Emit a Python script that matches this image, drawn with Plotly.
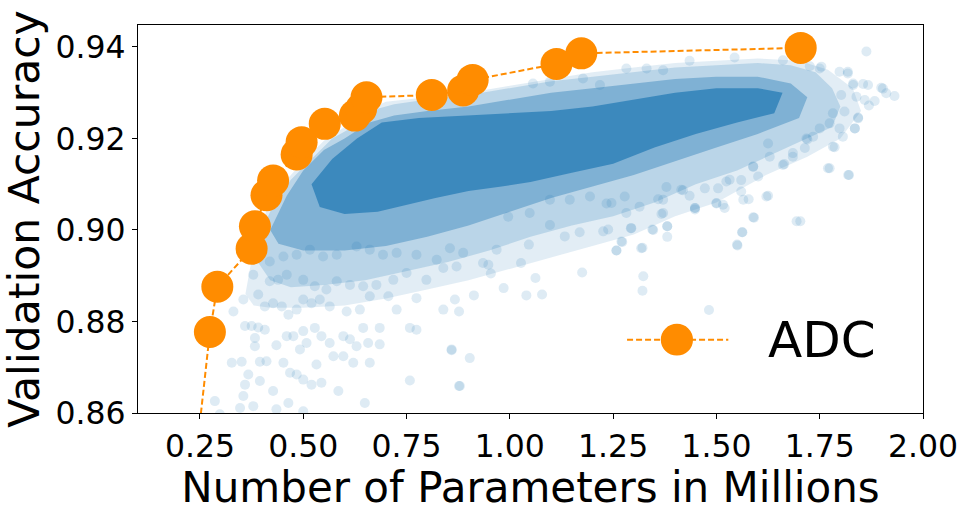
import plotly.graph_objects as go

# Pareto front (ADC)
front_x = [0.245, 0.274, 0.292, 0.375, 0.383, 0.411, 0.427, 0.484, 0.496, 0.552,
           0.625, 0.640, 0.653, 0.811, 0.887, 0.910, 1.113, 1.173, 1.704]
front_y = [0.854, 0.8777, 0.8876, 0.8959, 0.9008, 0.9076, 0.9108, 0.9165, 0.9192, 0.9232,
           0.9250, 0.9265, 0.9290, 0.9295, 0.9305, 0.9328, 0.9363, 0.9386, 0.9398]

# dense cloud of sampled architectures, outlined as four density levels
outer_x = [0.36, 0.38, 0.41, 0.45, 0.50, 0.55, 0.60, 0.65, 0.70, 0.80, 0.90, 1.00, 1.10, 1.20,
           1.30, 1.40, 1.50, 1.60, 1.70, 1.77, 1.83, 1.85, 1.80, 1.72, 1.62, 1.50, 1.40, 1.30,
           1.20, 1.10, 1.00, 0.90, 0.80, 0.70, 0.60, 0.50, 0.42, 0.38]
outer_y = [0.886, 0.896, 0.904, 0.910, 0.915, 0.9195, 0.9225, 0.926, 0.928, 0.929, 0.930,
           0.9315, 0.933, 0.9345, 0.9355, 0.9365, 0.937, 0.9375, 0.937, 0.935, 0.931, 0.926,
           0.920, 0.916, 0.912, 0.906, 0.903, 0.899, 0.8965, 0.894, 0.8915, 0.889, 0.887,
           0.885, 0.8835, 0.883, 0.883, 0.8835]

halo_x = [0.39, 0.40, 0.43, 0.47, 0.52, 0.57, 0.62, 0.66, 0.72, 0.80, 0.90, 1.00, 1.10, 1.20,
          1.30, 1.40, 1.50, 1.60, 1.68, 1.74, 1.78, 1.80, 1.78, 1.72, 1.65, 1.55, 1.45, 1.35,
          1.25, 1.15, 1.05, 0.95, 0.85, 0.75, 0.65, 0.55, 0.47, 0.42]
halo_y = [0.893, 0.900, 0.906, 0.911, 0.9155, 0.920, 0.9225, 0.926, 0.9275, 0.9285, 0.9295,
          0.931, 0.9325, 0.9335, 0.9345, 0.9355, 0.936, 0.9365, 0.936, 0.9345, 0.931, 0.927,
          0.9225, 0.920, 0.917, 0.913, 0.910, 0.906, 0.903, 0.901, 0.8985, 0.8955, 0.893,
          0.891, 0.889, 0.888, 0.8875, 0.889]

mid_x = [0.42, 0.46, 0.50, 0.55, 0.60, 0.66, 0.72, 0.80, 0.90, 1.00, 1.10, 1.20, 1.30, 1.40,
         1.50, 1.60, 1.68, 1.72, 1.70, 1.60, 1.50, 1.40, 1.30, 1.20, 1.10, 1.00, 0.90, 0.80,
         0.70, 0.60, 0.50, 0.44]
mid_y = [0.900, 0.9075, 0.913, 0.9175, 0.920, 0.9235, 0.925, 0.926, 0.927, 0.9285, 0.930,
         0.931, 0.932, 0.933, 0.9335, 0.9335, 0.932, 0.929, 0.9245, 0.921, 0.918, 0.915,
         0.912, 0.9095, 0.907, 0.904, 0.901, 0.8985, 0.8965, 0.8955, 0.8955, 0.897]

core_x = [0.52, 0.57, 0.63, 0.69, 0.78, 0.88, 1.00, 1.10, 1.20, 1.30, 1.40, 1.50, 1.60, 1.66,
          1.64, 1.55, 1.45, 1.35, 1.25, 1.15, 1.05, 0.98, 0.90, 0.82, 0.75, 0.68, 0.60, 0.54]
core_y = [0.910, 0.9155, 0.920, 0.9235, 0.9245, 0.925, 0.9255, 0.926, 0.927, 0.9285, 0.930,
          0.931, 0.931, 0.930, 0.9255, 0.9235, 0.921, 0.918, 0.9145, 0.9125, 0.9105, 0.9095,
          0.9085, 0.907, 0.9055, 0.904, 0.9035, 0.905]

# individual architectures outside the dense cloud
pts_x = [0.286, 0.298, 0.347, 0.355, 0.379, 0.435, 0.464, 0.500, 0.359, 0.367, 0.395, 0.427,
         0.327, 0.351, 0.395, 0.411, 0.452, 0.468, 0.484, 0.500, 0.520, 0.544, 0.585, 0.649,
         0.758, 0.859, 0.879, 0.359, 0.375, 0.391, 0.407, 0.383, 0.383, 0.435, 0.460, 0.476,
         0.500, 0.508, 0.492, 0.528, 0.544, 0.564, 0.597, 0.613, 0.629, 0.657, 0.685, 0.645,
         0.685, 0.758, 0.774, 0.573, 0.597, 0.621, 0.661, 0.532, 0.331, 0.355, 0.391, 0.407,
         0.427, 0.448, 0.464, 0.484, 0.500, 0.520, 0.540, 0.564, 0.605, 0.637, 0.661, 0.706,
         0.726, 0.774, 0.839, 0.379, 0.419, 0.439, 0.460, 0.500, 0.528, 0.556, 0.581, 0.613,
         0.645, 0.677, 0.718, 0.750, 0.798, 0.839, 0.871, 0.419, 0.452, 0.484, 0.516, 0.548,
         0.581, 0.629, 0.661, 0.693, 0.726, 0.774, 0.823, 0.855,
         0.877, 0.903, 0.859, 0.877, 0.867, 0.913, 0.985, 1.040, 1.078, 1.062, 1.027, 0.954,
         0.948, 1.175, 1.046, 1.258, 1.272, 1.321, 1.323, 1.321, 1.482, 1.550, 1.562, 1.589,
         1.694, 1.703, 1.381, 1.345, 1.293, 1.238, 1.169, 1.133, 1.097, 0.968, 0.935, 0.887,
         1.381, 1.448, 1.516, 1.371,
         1.863, 1.931, 1.911, 1.899, 1.883, 1.869, 1.859, 1.867, 1.843, 1.835, 1.806, 1.786,
         1.774, 1.821, 1.591, 1.563, 1.551, 1.625, 1.601, 1.664, 1.685, 1.720, 1.750, 1.798,
         1.831, 1.798, 1.750, 1.818, 1.318, 1.270, 1.258, 1.347, 1.381, 1.367, 1.448, 1.500,
         1.520, 1.560, 1.578, 1.435, 1.415, 1.379, 1.359, 1.294, 1.278, 1.246, 1.226, 1.472,
         1.504, 1.532, 1.589, 1.629, 1.714, 1.734, 1.802, 1.810, 1.782, 1.774,
         1.282, 1.435, 1.544, 1.661, 1.726, 1.754, 1.818, 1.855, 1.903, 1.831, 1.839, 1.331,
         1.371, 1.218, 1.097, 1.056, 1.177, 1.782, 1.835, 1.843, 1.770, 1.819, 1.718, 1.685,
         1.661, 1.621, 1.625, 1.589, 1.560, 1.565, 1.524, 1.500, 1.448, 1.419, 1.371, 1.314,
         1.282, 1.234, 1.194, 1.145, 1.097, 1.048, 0.996]
pts_y = [0.8626, 0.8597, 0.8611, 0.8637, 0.8615, 0.8608, 0.8622, 0.8604, 0.8662, 0.8684,
         0.8670, 0.8648, 0.8710, 0.8712, 0.8712, 0.8713, 0.8710, 0.8688, 0.8684, 0.8673,
         0.8662, 0.8666, 0.8648, 0.8622, 0.8671, 0.8737, 0.8659, 0.8790, 0.8790, 0.8787,
         0.8782, 0.8764, 0.8746, 0.8748, 0.8768, 0.8768, 0.8779, 0.8753, 0.8739, 0.8786,
         0.8768, 0.8753, 0.8768, 0.8761, 0.8746, 0.8753, 0.8750, 0.8786, 0.8786, 0.8786,
         0.8782, 0.8724, 0.8724, 0.8710, 0.8710, 0.8706, 0.8822, 0.8848, 0.8859, 0.8833,
         0.8840, 0.8833, 0.8815, 0.8826, 0.8848, 0.8840, 0.8848, 0.8833, 0.8822, 0.8826,
         0.8855, 0.8855, 0.8826, 0.8851, 0.8826, 0.8902, 0.8888, 0.8891, 0.8902, 0.8891,
         0.8877, 0.8870, 0.8888, 0.8880, 0.8877, 0.8880, 0.8891, 0.8906, 0.8891, 0.8917,
         0.8920, 0.8931, 0.8942, 0.8946, 0.8957, 0.8942, 0.8946, 0.8964, 0.8957, 0.8946,
         0.8950, 0.8946, 0.8935, 0.8960,
         0.8659, 0.8720, 0.8739, 0.8822, 0.8848, 0.8857, 0.8873, 0.8857, 0.8859, 0.8895,
         0.8928, 0.8905, 0.8924, 0.8907, 0.8968, 0.8955, 0.8974, 0.8961, 0.8899, 0.8867,
         0.8825, 0.8968, 0.8995, 0.9028, 0.9019, 0.9019, 0.8985, 0.9001, 0.9004, 0.9001,
         0.8995, 0.8986, 0.9011, 0.8957, 0.8928, 0.8950, 0.9008, 0.9048, 0.9055, 0.9037,
         0.9390, 0.9293, 0.9299, 0.9311, 0.9282, 0.9272, 0.9284, 0.9317, 0.9246, 0.9222,
         0.9204, 0.9181, 0.9135, 0.9120, 0.9027, 0.8995, 0.8966, 0.9075, 0.9117, 0.9144,
         0.9168, 0.9198, 0.9222, 0.9222, 0.9317, 0.9346, 0.9353, 0.9342, 0.8960, 0.8975,
         0.8955, 0.9000, 0.9008, 0.9035, 0.9048, 0.9059, 0.9048, 0.9084, 0.9067, 0.9075,
         0.9088, 0.9094, 0.9067, 0.9004, 0.9073, 0.9059, 0.8997, 0.9091, 0.9091, 0.9110,
         0.9139, 0.9160, 0.9179, 0.9204, 0.9295, 0.9259, 0.9255, 0.9233,
         0.9353, 0.9370, 0.9377, 0.9371, 0.9358, 0.9357, 0.9346, 0.9319, 0.9309, 0.9320,
         0.9291, 0.9353, 0.9349, 0.9317, 0.9324, 0.9320, 0.9331, 0.9182, 0.9222, 0.9244,
         0.9135, 0.9120, 0.9200, 0.9160, 0.9142, 0.9073, 0.9189, 0.9138, 0.9109, 0.9066,
         0.9106, 0.9058, 0.9045, 0.9087, 0.9066, 0.9051, 0.9037, 0.9058, 0.9073, 0.9066,
         0.9066, 0.9037, 0.9029]

x_ticks = [0.25, 0.50, 0.75, 1.00, 1.25, 1.50, 1.75, 2.00]
y_ticks = [0.86, 0.88, 0.90, 0.92, 0.94]

BLUE = "#1f77b4"
ORANGE = "#ff8c00"

fig = go.Figure()

# density levels of the cloud, lightest first
levels = [(outer_x, outer_y, 0.13), (halo_x, halo_y, 0.2), (mid_x, mid_y, 0.38), (core_x, core_y, 0.7)]
for lx, ly, alpha in levels:
    fig.add_trace(go.Scatter(x=lx + lx[:1], y=ly + ly[:1], mode="lines", fill="toself",
                             fillcolor="rgba(31,119,180,%s)" % alpha,
                             line=dict(width=0), hoverinfo="skip", showlegend=False))

fig.add_trace(go.Scatter(x=pts_x, y=pts_y, mode="markers",
                         marker=dict(size=10, color=BLUE, opacity=0.15, line=dict(width=0)),
                         showlegend=False))

fig.add_trace(go.Scatter(x=front_x, y=front_y, mode="lines+markers", name="ADC",
                         line=dict(color=ORANGE, width=2, dash="6px,3px"),
                         marker=dict(size=32, color=ORANGE, line=dict(width=0)),
                         showlegend=False))

# legend drawn by hand so the key matches the big markers
fig.add_shape(type="line", xref="paper", yref="paper", x0=0.623, x1=0.752, y0=0.189, y1=0.189,
              line=dict(color=ORANGE, width=2, dash="6px,3px"))
fig.add_shape(type="circle", xref="paper", yref="paper", x0=0.666, x1=0.707, y0=0.148, y1=0.230,
              fillcolor=ORANGE, line=dict(width=0))
fig.add_annotation(text="ADC", xref="paper", yref="paper", x=0.800, y=0.189,
                   xanchor="left", yanchor="middle", showarrow=False,
                   font=dict(size=50, color="black"))

axis_style = dict(showline=True, mirror=True, linecolor="black", linewidth=1.2,
                  ticks="outside", ticklen=5, tickwidth=1.2, tickcolor="black",
                  showgrid=False, zeroline=False, tickformat=".2f",
                  tickfont=dict(size=31.5, color="black"))

fig.update_xaxes(range=[0.1, 2.0], tickvals=x_ticks, **axis_style,
                 title=dict(text="Number of Parameters in Millions", font=dict(size=42, color="black"),
                            standoff=4))
fig.update_yaxes(range=[0.86, 0.9448], tickvals=y_ticks, **axis_style,
                 title=dict(text="Validation Accuracy", font=dict(size=42.5, color="black"),
                            standoff=6))

fig.update_layout(
    width=969, height=512,
    margin=dict(l=138, r=46, t=25, b=99),
    plot_bgcolor="white", paper_bgcolor="white",
    font=dict(family="DejaVu Sans", color="black"),
)

# drop the browser's default 8px body margin so the figure sits at the window corner
fig.write_html("out.html", config={"displayModeBar": False},
               post_script="document.body.style.margin='0';")
